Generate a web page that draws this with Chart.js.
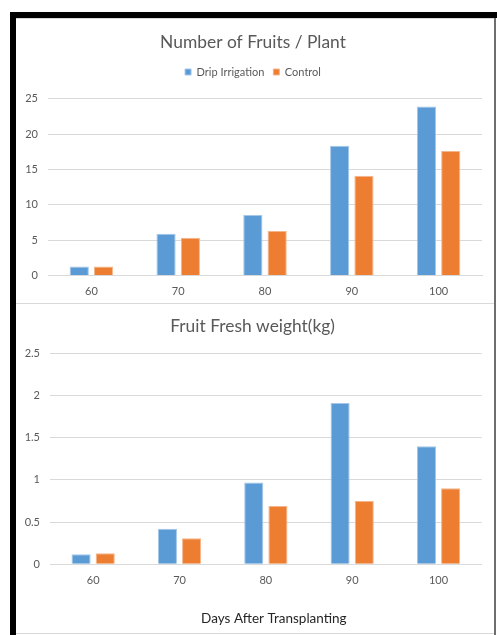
<!DOCTYPE html>
<html>
<head>
<meta charset="utf-8">
<script src="https://cdn.jsdelivr.net/npm/chart.js@4.4.1/dist/chart.umd.min.js"></script>
<style>
  html, body { margin: 0; padding: 0; background: #fff; width: 497px; height: 635px; overflow: hidden; }
  .bar-top { position: absolute; left: 10px; top: 12px; width: 487px; height: 6px; background: #000; }
  .bar-left { position: absolute; left: 10px; top: 12px; width: 6px; height: 623px; background: #000; }
  .edge-right { position: absolute; left: 494px; top: 18px; width: 2px; height: 617px; background: #6e6e6e; }
  .rule { position: absolute; left: 16px; width: 478px; height: 1px; background: #d9d9d9; z-index: 2; }
  canvas { position: absolute; left: 16px; }
  #fruits { top: 19px; }
  #weight { top: 304px; }
</style>
</head>
<body>
<div class="bar-top"></div>
<div class="bar-left"></div>
<div class="edge-right"></div>
<div class="rule" style="top:18px"></div>
<div class="rule" style="top:303px"></div>
<div class="rule" style="top:633px"></div>
<canvas id="fruits" width="474" height="288"></canvas>
<canvas id="weight" width="474" height="329"></canvas>
<script>
// Days after transplanting
const days = ['60', '70', '80', '90', '100'];
const daysTitle = 'Days After Transplanting';

// Number of fruits per plant
const fruitsDrip = [1.3, 5.9, 8.55, 18.35, 23.9];
const fruitsControl = [1.3, 5.35, 6.3, 14.1, 17.6];
const fruitTicks = ['0', '5', '10', '15', '20', '25'];

// Fruit fresh weight (kg)
const weightDrip = [0.12, 0.42, 0.97, 1.91, 1.40];
const weightControl = [0.13, 0.31, 0.69, 0.75, 0.90];
const weightTicks = ['0', '0.5', '1', '1.5', '2', '2.5'];

const seriesNames = ['Drip Irrigation', 'Control'];
const BLUE = '#5B9BD5', ORANGE = '#ED7D31';
const GREY_TEXT = '#595959', GRID = '#d9d9d9';
const FONT = 'Lato';

function barSets(a, b) {
  return [
    { label: seriesNames[0], data: a, backgroundColor: BLUE, borderColor: '#a4c6e8', borderWidth: 1,
      categoryPercentage: 0.56, barPercentage: 0.79 },
    { label: seriesNames[1], data: b, backgroundColor: ORANGE, borderColor: '#f5b58a', borderWidth: 1,
      categoryPercentage: 0.56, barPercentage: 0.79 }
  ];
}

function yScale(ticks, width) {
  const lo = parseFloat(ticks[0]), hi = parseFloat(ticks[ticks.length - 1]);
  return {
    min: lo, max: hi,
    ticks: { stepSize: (hi - lo) / (ticks.length - 1), padding: 10, color: GREY_TEXT,
             font: { family: FONT, size: 11 }, callback: (v, i) => ticks[i] },
    grid: { color: GRID, drawTicks: false },
    border: { display: false },
    afterFit(s) { s.width = width; }
  };
}

function xScale() {
  return {
    grid: { display: false, drawTicks: false },
    border: { display: true, color: GRID },
    ticks: { padding: 9.1, color: GREY_TEXT, font: { family: FONT, size: 11 } }
  };
}

// Axis caption under the lower chart, set slightly right of the plot centre
const axisCaption = {
  id: 'axisCaption',
  afterDraw(chart) {
    const ctx = chart.ctx;
    ctx.save();
    ctx.font = '13.5px ' + FONT;
    ctx.fillStyle = '#262626';
    ctx.textAlign = 'center';
    ctx.textBaseline = 'middle';
    ctx.fillText(daysTitle, chart.chartArea.left + (chart.chartArea.right - chart.chartArea.left) / 2 + 8, chart.height - 14.7);
    ctx.restore();
  }
};

new Chart(document.getElementById('fruits'), {
  type: 'bar',
  data: { labels: days, datasets: barSets(fruitsDrip, fruitsControl) },
  options: {
    responsive: false, animation: false,
    layout: { padding: { left: 8, right: 8, top: 0, bottom: 0 } },
    plugins: {
      title: { display: true, text: 'Number of Fruits / Plant', color: GREY_TEXT,
               font: { family: FONT, size: 17.4, weight: 'normal' }, padding: { top: 12.56, bottom: 5.06 } },
      legend: { display: true, position: 'top', weight: 1800,
                labels: { boxWidth: 6, boxHeight: 6, padding: 9, color: GREY_TEXT,
                          font: { family: FONT, size: 11 } } },
      subtitle: { display: true, text: '', padding: 0, font: { size: 10, lineHeight: 1.12 } },
      tooltip: { enabled: false }
    },
    scales: { x: xScale(), y: yScale(fruitTicks, 24) }
  }
});

new Chart(document.getElementById('weight'), {
  type: 'bar',
  data: { labels: days, datasets: barSets(weightDrip, weightControl) },
  options: {
    responsive: false, animation: false,
    layout: { padding: { left: 7.5, right: 8.3, top: 0, bottom: 37.3 } },
    plugins: {
      title: { display: true, text: 'Fruit Fresh weight(kg)', color: GREY_TEXT,
               font: { family: FONT, size: 17.4, weight: 'normal' }, padding: { top: 12.26, bottom: 16.16 } },
      legend: { display: false },
      tooltip: { enabled: false }
    },
    scales: { x: xScale(), y: yScale(weightTicks, 26.5) }
  },
  plugins: [axisCaption]
});
</script>
</body>
</html>
